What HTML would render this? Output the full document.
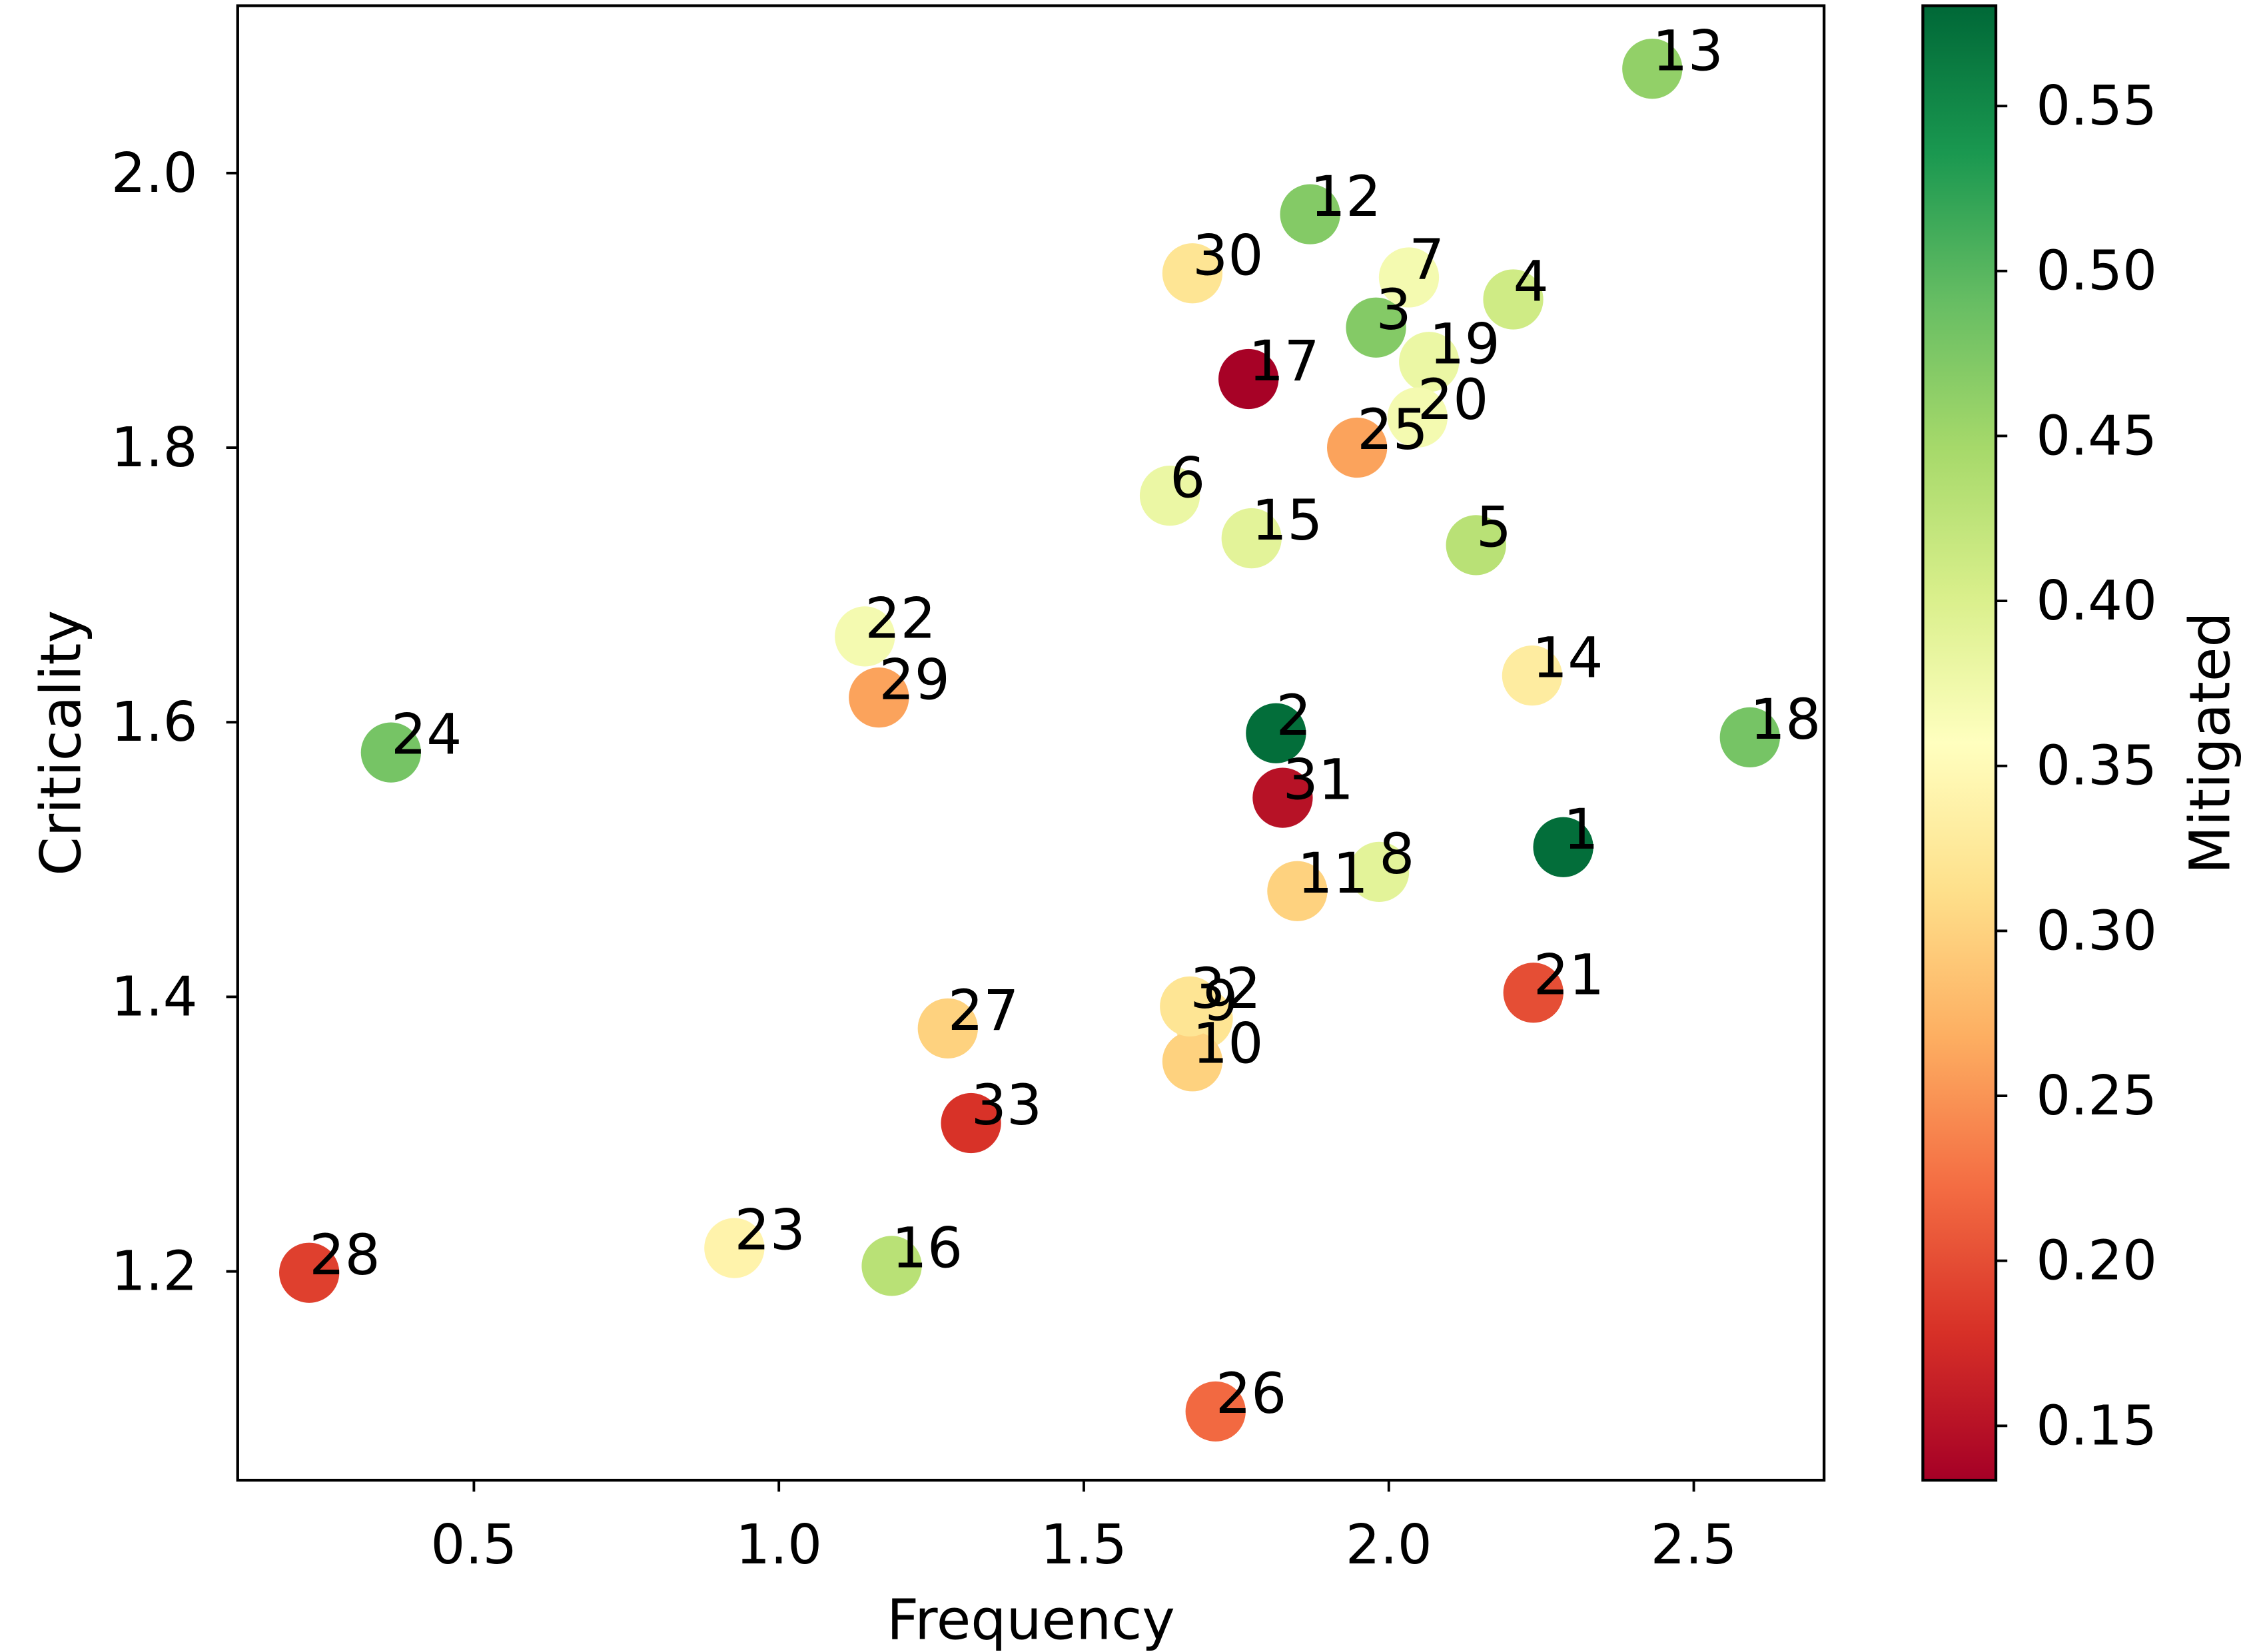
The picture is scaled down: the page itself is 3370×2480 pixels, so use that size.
<!DOCTYPE html>
<html><head><meta charset="utf-8"><style>html,body{margin:0;padding:0;background:#fff}svg{display:block}</style></head>
<body>
<svg id="chart" width="3370" height="2480" viewBox="0 0 1568 1154" preserveAspectRatio="none" xmlns="http://www.w3.org/2000/svg" font-family="'DejaVu Sans','Liberation Sans',sans-serif">
<defs><linearGradient id="cg" x1="0" y1="1" x2="0" y2="0"></linearGradient></defs>
<rect width="1568" height="1154" fill="#fff"/>
<g id="marks"></g>
<g id="axes"></g>
</svg>
<script>
const labels = [1,2,3,4,5,6,7,8,9,10,11,12,13,14,15,16,17,18,19,20,21,22,23,24,25,26,27,28,29,30,31,32,33];
const freq = [2.286,1.815,1.979,2.204,2.143,1.641,2.033,1.984,1.695,1.678,1.850,1.871,2.432,2.235,1.775,1.185,1.770,2.592,2.066,2.047,2.237,1.141,0.927,0.364,1.948,1.716,1.277,0.230,1.164,1.678,1.826,1.674,1.315];
const crit = [1.509,1.592,1.8875,1.908,1.729,1.765,1.924,1.491,1.384,1.353,1.477,1.970,2.076,1.634,1.734,1.204,1.850,1.589,1.8625,1.822,1.403,1.6625,1.217,1.578,1.800,1.098,1.377,1.199,1.618,1.927,1.545,1.393,1.308];
const mitig = [0.575,0.575,0.47,0.41,0.43,0.38,0.37,0.39,0.32,0.30,0.30,0.47,0.46,0.33,0.39,0.43,0.135,0.48,0.38,0.37,0.20,0.37,0.34,0.48,0.26,0.22,0.30,0.19,0.26,0.32,0.15,0.32,0.18];
const xTicks = [0.5,1.0,1.5,2.0,2.5];
const yTicks = [1.2,1.4,1.6,1.8,2.0];
const cTicks = [0.15,0.20,0.25,0.30,0.35,0.40,0.45,0.50,0.55];

const NS="http://www.w3.org/2000/svg";
const PL=166,PR=1274,PT=4,PB=1034;
const X0=0.1127,X1=2.7136,Y0=1.0479,Y1=2.1219;
const C0=0.1335,C1=0.5804,CL=1343,CR=1394;
const xs=v=>PL+(v-X0)/(X1-X0)*(PR-PL);
const ys=v=>PB-(v-Y0)/(Y1-Y0)*(PB-PT);
const cs=v=>PB-(v-C0)/(C1-C0)*(PB-PT);
const stops=[[165,0,38],[215,48,39],[244,109,67],[253,174,97],[254,224,139],[255,255,191],[217,239,139],[166,217,106],[102,189,99],[26,152,80],[0,104,55]];
function cmap(v){let t=Math.max(0,Math.min(1,(v-C0)/(C1-C0)))*10;let i=Math.min(9,Math.floor(t)),f=t-i;const a=stops[i],b=stops[i+1];return `rgb(${a.map((c,k)=>Math.round(c+(b[k]-c)*f)).join(',')})`;}
function el(tag,attrs,parent,txt){const e=document.createElementNS(NS,tag);for(const k in attrs)e.setAttribute(k,attrs[k]);if(txt!==undefined)e.textContent=txt;parent.appendChild(e);return e;}
const marks=document.getElementById('marks'),axes=document.getElementById('axes');
labels.forEach((l,i)=>{const c=el('circle',{cx:xs(freq[i]),cy:ys(crit[i]),r:21,fill:cmap(mitig[i])},marks);

});
labels.forEach((l,i)=>{const t=el('text',{x:xs(freq[i]),y:ys(crit[i])+1,'font-size':39,fill:'#000'},marks,String(l));

});
const fr=el('rect',{x:PL,y:PT,width:PR-PL,height:PB-PT,fill:'none',stroke:'#000','stroke-width':2},axes);


xTicks.forEach(v=>{const x=xs(v);el('line',{x1:x,x2:x,y1:PB,y2:PB+8,stroke:'#000','stroke-width':1.8},axes);
const t=el('text',{x:x,y:PB+58,'font-size':38,'text-anchor':'middle'},axes,v.toFixed(1));

});
yTicks.forEach(v=>{const y=ys(v);el('line',{x1:PL-8,x2:PL,y1:y,y2:y,stroke:'#000','stroke-width':1.8},axes);
const t=el('text',{x:PL-28,y:y+13,'font-size':38,'text-anchor':'end'},axes,v.toFixed(1));

});
const xt=el('text',{x:(PL+PR)/2,y:1145,'font-size':39,'text-anchor':'middle'},axes,'Frequency');


const yt=el('text',{x:0,y:0,'font-size':39,'text-anchor':'middle',transform:`translate(56,${(PT+PB)/2}) rotate(-90)`},axes,'Criticality');


const g=document.getElementById('cg');
stops.forEach((s,i)=>el('stop',{offset:(i*10)+'%','stop-color':`rgb(${s.join(',')})`},g));
const cb=el('rect',{x:CL,y:PT,width:CR-CL,height:PB-PT,fill:'url(#cg)',stroke:'#000','stroke-width':2},axes);


cTicks.forEach(v=>{const y=cs(v);el('line',{x1:CR,x2:CR+8,y1:y,y2:y,stroke:'#000','stroke-width':1.8},axes);
const t=el('text',{x:CR+28,y:y+13,'font-size':38},axes,v.toFixed(2));

});
const ct=el('text',{x:0,y:0,'font-size':39,'text-anchor':'middle',transform:`translate(1557,${(PT+PB)/2}) rotate(-90)`},axes,'Mitigated');


</script>
</body></html>
